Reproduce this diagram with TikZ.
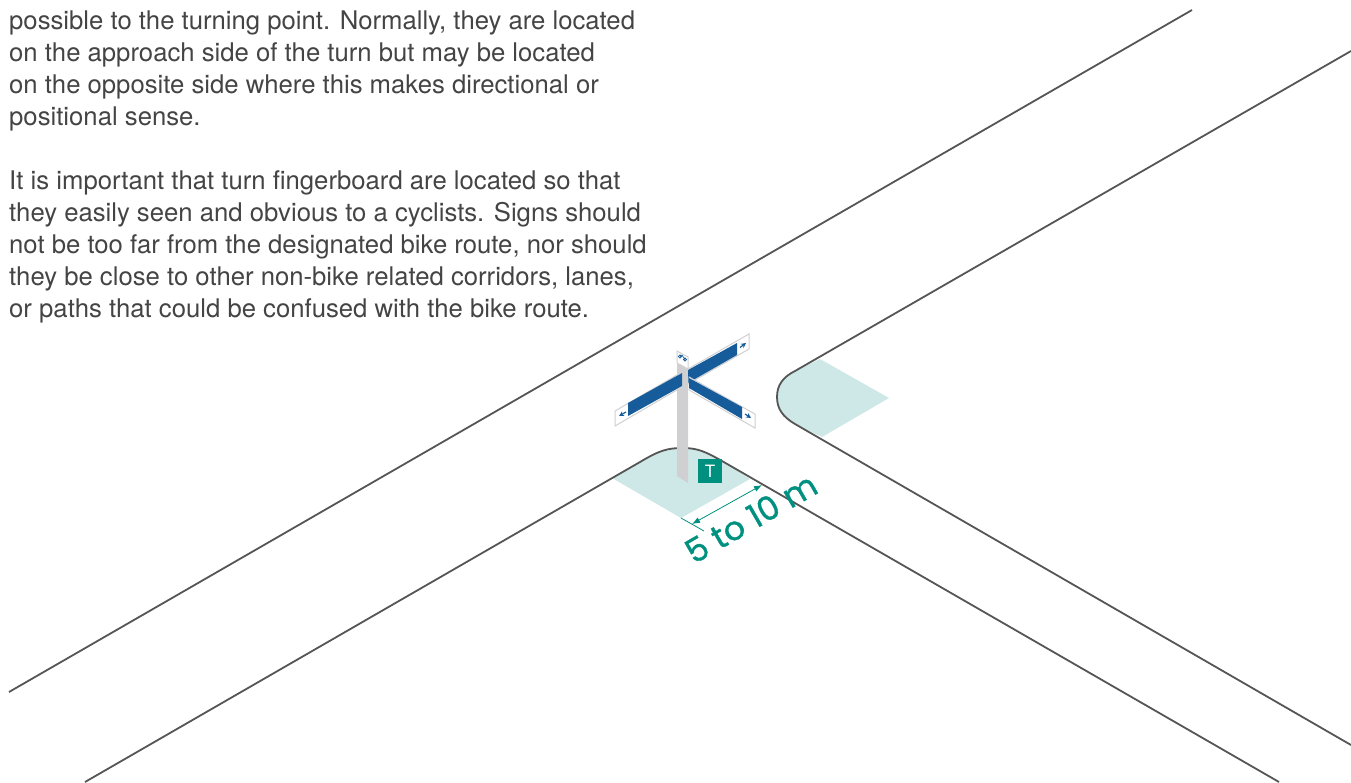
\documentclass[tikz,border=0pt]{standalone}
\usepackage{fontspec}
\setmainfont{TeX Gyre Heros}
\newfontfamily\dimfont[FakeBold=1]{Poppins}
\usetikzlibrary{arrows.meta}
\definecolor{roadgray}{HTML}{555555}
\definecolor{textgray}{HTML}{444444}
\definecolor{signteal}{HTML}{00907F}
\definecolor{shadeteal}{HTML}{CDE8E6}
\definecolor{signblue}{HTML}{165C9B}
\definecolor{postgray}{HTML}{D0D0D2}
\begin{document}
\begin{tikzpicture}[x=1pt, y=-1pt,
			>={Latex[length=8pt,width=6pt]},
			road/.style={draw=roadgray, line width=1.8pt},
			shade/.style={fill=shadeteal},
			panel/.style={fill=white, draw=postgray, line width=1pt},
			blade/.style={fill=signblue},
			tip/.style={draw=signblue, line width=1.2pt, -{Stealth[length=5pt,width=5pt]}},
			font=\fontsize{25.7}{32}\selectfont]
			\useasboundingbox (0,0) rectangle (1351,782);
			% Text
			\node[anchor=north west, align=left, inner sep=0pt, text=textgray] (intro) at (9,10.5) {possible to the turning point. Normally, they are located\\on the approach side of the turn but may be located\\on the opposite side where this makes directional or\\positional sense.};
			\node[anchor=north west, align=left, inner sep=0pt, text=textgray] (advice) at (9,170.5) {It is important that turn fingerboard are located so that\\they easily seen and obvious to a cyclists. Signs should\\not be too far from the designated bike route, nor should\\they be close to other non-bike related corridors, lanes,\\or paths that could be confused with the bike route.};
			% Shaded areas
			\fill[shade] (612,478) -- (640,462) .. controls (660,450) and (668,448) .. (683,448) .. controls (698,448) and (706,452) .. (722,461) -- (750,479) -- (681,518) -- cycle;
			\fill[shade] (820,359) -- (889,398) -- (822,437) -- (795,424) .. controls (783,417) and (777,409) .. (777,397) .. controls (777,385) and (783,377) .. (795,371) -- cycle;
			% Roads
			\draw[road] (9,692) -- (1192,10);
			\draw[road] (85,782) -- (640,462) .. controls (660,450) and (668,448) .. (683,448) .. controls (698,448) and (706,452) .. (722,461) -- (1279,782);
			\draw[road] (1351,51) -- (795,371) .. controls (783,377) and (777,385) .. (777,397) .. controls (777,409) and (783,417) .. (795,424) -- (1351,745);
			% Post and arms
			\fill[postgray] (677,360) -- (688,366) -- (688,483) -- (677,476) -- cycle;
			\draw[panel] (615,411) -- (682,372) -- (682,387) -- (615,426) -- cycle;
			\fill[blade] (628,403) -- (682,373) -- (682,386) -- (628,416) -- cycle;
			\draw[panel] (688,369) -- (749,334) -- (749,349) -- (688,384) -- cycle;
			\fill[blade] (688,370) -- (737,343) -- (737,355) -- (688,383) -- cycle;
			\draw[panel] (689,377) -- (755,414) -- (755,428) -- (689,390) -- cycle;
			\fill[blade] (689,378) -- (742,407) -- (742,419) -- (689,388) -- cycle;
			\draw[panel] (677,351) -- (688,357) -- (688,369) -- (677,363) -- cycle;
			% Small arrows
			\draw[tip] (626,412) -- (619,416);
			\draw[tip] (740,347.5) -- (746,343);
			\draw[tip] (745,414) -- (751,418);
			% Bike symbol
			\draw[signblue, line width=.6pt] (680,356.5) circle (1.6) (685,359.5) circle (1.6) (680,356.5) -- (682,355) -- (685,359.5);
			% Marker
			\node[fill=signteal, text=white, inner sep=0pt, minimum size=24pt, font=\fontsize{17}{17}\selectfont] (marker) at (710,471) {T};
			% Dimension
			\coordinate (ticka) at (681,518);
			\coordinate (tickb) at (704,531);
			\coordinate (dima) at (692,524);
			\coordinate (dimb) at (762,485);
			\draw[signteal, line width=.8pt] (ticka) -- (tickb);
			\draw[signteal, line width=.8pt, <->] (dima) -- (dimb);
			\node[rotate=30, text=signteal, font=\dimfont\fontsize{33}{33}\selectfont] (dimlabel) at (751,518) {5 to 10 m};
		\end{tikzpicture}
\end{document}
